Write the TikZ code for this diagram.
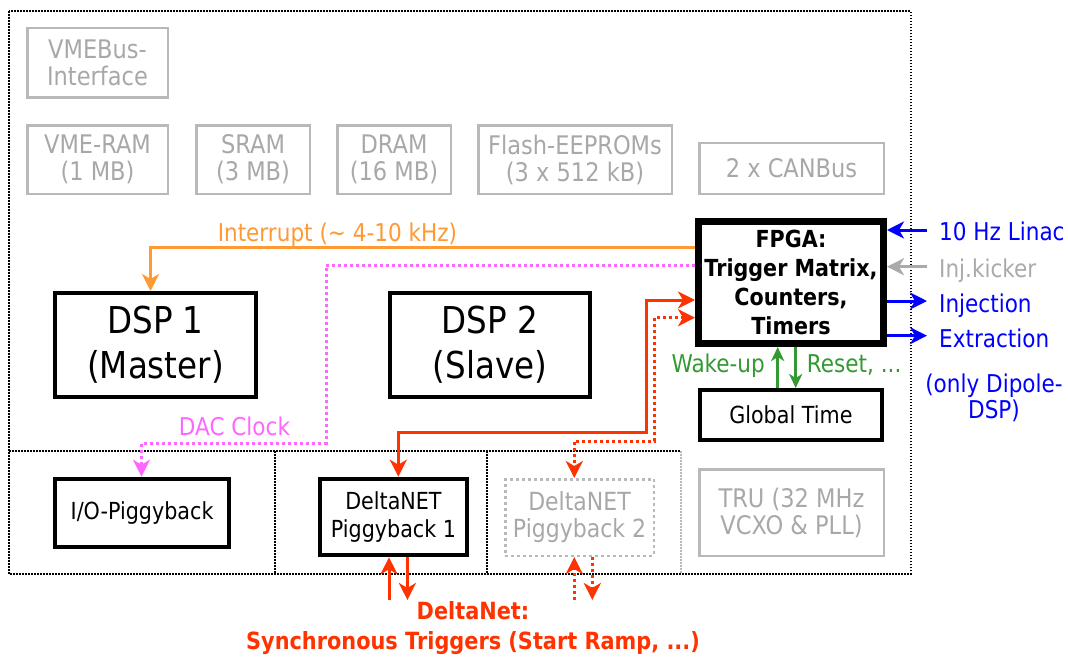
\documentclass[tikz,border=0pt]{standalone}
\usepackage{fontspec}
\setmainfont{DejaVu Sans}[FakeStretch=0.88]
\usetikzlibrary{arrows.meta}

\definecolor{boxgray}{RGB}{185,185,185}
\definecolor{txtgray}{RGB}{168,168,168}
\definecolor{irqorange}{RGB}{255,153,51}
\definecolor{dacpink}{RGB}{255,102,255}
\definecolor{netred}{RGB}{255,51,0}
\definecolor{sigblue}{RGB}{0,0,255}
\definecolor{wakegreen}{RGB}{51,153,51}
\definecolor{kickgray}{RGB}{170,170,170}

\tikzset{
  unit/.style={draw, rectangle, inner sep=0pt, align=center},
  mem/.style={unit, draw=boxgray, line width=2.5pt, text=txtgray,
    font=\fontsize{25.6pt}{27pt}\selectfont},
  blk/.style={unit, draw=black, line width=4pt,
    font=\fontsize{23.5pt}{28pt}\selectfont},
  dspbox/.style={blk, font=\fontsize{37pt}{45pt}\selectfont},
  fpgabox/.style={unit, draw=black, line width=7pt,
    font=\fontsize{23.5pt}{29pt}\selectfont\bfseries},
  frameline/.style={line width=2pt, dash pattern=on 1.8pt off 1.2pt},
  lbl/.style={inner sep=0pt, font=\fontsize{24.5pt}{26pt}\selectfont},
  capline/.style={text height=17.9pt, text depth=0pt},
  sig/.style={line width=3pt, >={Stealth[length=17pt,width=17pt,inset=5pt]}},
  dotsig/.style={sig, dash pattern=on 3pt off 3pt},
  greensig/.style={line width=3pt, draw=wakegreen,
    >={Stealth[length=14pt,width=13pt,inset=4pt]}},
}

\begin{document}
\begin{tikzpicture}[x=1pt,y=-1pt]
\useasboundingbox (0,0) rectangle (1068,656);

% board outline and piggyback slots
\draw[frameline] (9.3,11) rectangle (910.7,574);
\draw[frameline] (9.3,451) -- (681,451);
\draw[frameline] (275,451) -- (275,574);
\draw[frameline] (487,451) -- (487,574);
\draw[frameline, draw=boxgray] (681,451) -- (681,574);

% passive components
\node[mem, minimum width=140.5pt, minimum height=69.5pt] (vmebus) at (97.5,62.7) {VMEBus-\\Interface};
\node[mem, minimum width=140.5pt, minimum height=68.8pt] (vmeram) at (97.5,159.65) {VME-RAM\\(1 MB)};
\node[mem, minimum width=113.5pt, minimum height=68.8pt] (sram) at (253,159.65) {SRAM\\(3 MB)};
\node[mem, minimum width=113.5pt, minimum height=68.8pt] (dram) at (394,159.65) {DRAM\\(16 MB)};
\node[mem, minimum width=193.5pt, minimum height=68.8pt] (flash) at (575,159.65) {Flash-EEPROMs\\(3 x 512 kB)};
\node[mem, minimum width=184.5pt, minimum height=50.8pt] (canbus) at (791.5,168.35) {2 x CANBus};
\node[mem, minimum width=184.5pt, minimum height=86.5pt] (tru) at (791.5,512.5) {TRU (32 MHz\\VCXO \& PLL)};
\node[mem, dash pattern=on 3pt off 3pt, minimum width=148.5pt, minimum height=76.5pt,
  font=\fontsize{25pt}{27pt}\selectfont] (dn2) at (579.5,517.5) {DeltaNET\\Piggyback 2};

% active components
\node[fpgabox, minimum width=185pt, minimum height=122pt] (fpga) at (791,282.5)
  {FPGA:\\Trigger Matrix,\\Counters,\\Timers};
\node[blk, minimum width=182.3pt, minimum height=50pt] (gtime) at (790.85,415) {Global Time};
\node[dspbox, minimum width=200.2pt, minimum height=104pt] (dsp1) at (155.5,345) {DSP 1\\(Master)};
\node[dspbox, minimum width=200.3pt, minimum height=104pt] (dsp2) at (489.85,345) {DSP 2\\(Slave)};
\node[blk, minimum width=173.3pt, minimum height=68pt] (io) at (142.05,512.7) {I/O-Piggyback};
\node[blk, minimum width=147.9pt, minimum height=76.6pt] (dn1) at (393.45,517) {DeltaNET\\Piggyback 1};

% bend points of the connectors
\coordinate (irqbend) at (150.5,247.7);
\coordinate (dacA) at (326,265.3);
\coordinate (dacB) at (141.5,443);
\coordinate (netA) at (646,300);
\coordinate (netB) at (398.3,432.7);
\coordinate (netC) at (654.5,317.7);
\coordinate (netD) at (574.3,441);
\coordinate (wake) at (777.7,363);
\coordinate (reset) at (795.7,363);
\coordinate (linacEnd) at (927,230);
\coordinate (kickEnd) at (927,266.7);
\coordinate (injEnd) at (927,301);
\coordinate (extEnd) at (927,335.7);
\coordinate (n1in) at (389,600);
\coordinate (n1out) at (407.4,600);
\coordinate (n2in) at (574.3,600);
\coordinate (n2out) at (592.3,600);

% interrupt line and DAC clock
\draw[sig, draw=irqorange, ->] (fpga.west |- irqbend) -- (irqbend) -- (irqbend |- dsp1.north);
\node[lbl, capline, text=irqorange] (irqlbl) at (337.4,232.5) {Interrupt (\char`\~{} 4-10 kHz)};
\draw[dotsig, draw=dacpink, ->] (fpga.west |- dacA) -- (dacA) |- (dacB) -- (dacB |- io.north);
\node[lbl, capline, text=dacpink] (daclbl) at (234.5,426.7) {DAC Clock};

% DeltaNET links
\draw[sig, draw=netred, <->] (fpga.west |- netA) -- (netA) |- (netB) -- (netB |- dn1.north);
\draw[dotsig, draw=netred, <->] (fpga.west |- netC) -- (netC) |- (netD) -- (netD |- dn2.north);
\draw[sig, draw=netred, ->] (n1in) -- (n1in |- dn1.south);
\draw[sig, draw=netred, ->] (n1out |- dn1.south) -- (n1out);
\draw[dotsig, draw=netred, ->] (n2in) -- (n2in |- dn2.south);
\draw[dotsig, draw=netred, ->] (n2out |- dn2.south) -- (n2out);
\node[lbl, text=netred, align=center, font=\fontsize{23.7pt}{30pt}\selectfont\bfseries] (netlbl) at (473,628)
  {DeltaNet:\\Synchronous Triggers (Start Ramp, ...)};

% global time handshake
\draw[greensig, ->] (wake |- gtime.north) -- (wake |- fpga.south);
\draw[greensig, ->] (reset |- fpga.south) -- (reset |- gtime.north);
\node[lbl, capline, text=wakegreen, anchor=east] (wakelbl) at (765,363.3) {Wake-up};
\node[lbl, capline, text=wakegreen, anchor=west] (resetlbl) at (806.7,363.3) {Reset, ...};

% external timing signals
\draw[sig, draw=sigblue, ->] (linacEnd) -- (fpga.east |- linacEnd);
\draw[sig, draw=kickgray, ->] (kickEnd) -- (fpga.east |- kickEnd);
\draw[sig, draw=sigblue, ->] (fpga.east |- injEnd) -- (injEnd);
\draw[sig, draw=sigblue, ->] (fpga.east |- extEnd) -- (extEnd);
\node[lbl, capline, text=sigblue, anchor=west] (linaclbl) at (939,231.7) {10 Hz Linac};
\node[lbl, capline, text=kickgray, anchor=west] (kicklbl) at (939,268.3) {Inj.kicker};
\node[lbl, capline, text=sigblue, anchor=west] (injlbl) at (939,303.3) {Injection};
\node[lbl, capline, text=sigblue, anchor=west] (extlbl) at (939,338.3) {Extraction};
\node[lbl, text=sigblue, align=center] (dipolelbl) at (994,397.5) {(only Dipole-\\DSP)};
\end{tikzpicture}
\end{document}
